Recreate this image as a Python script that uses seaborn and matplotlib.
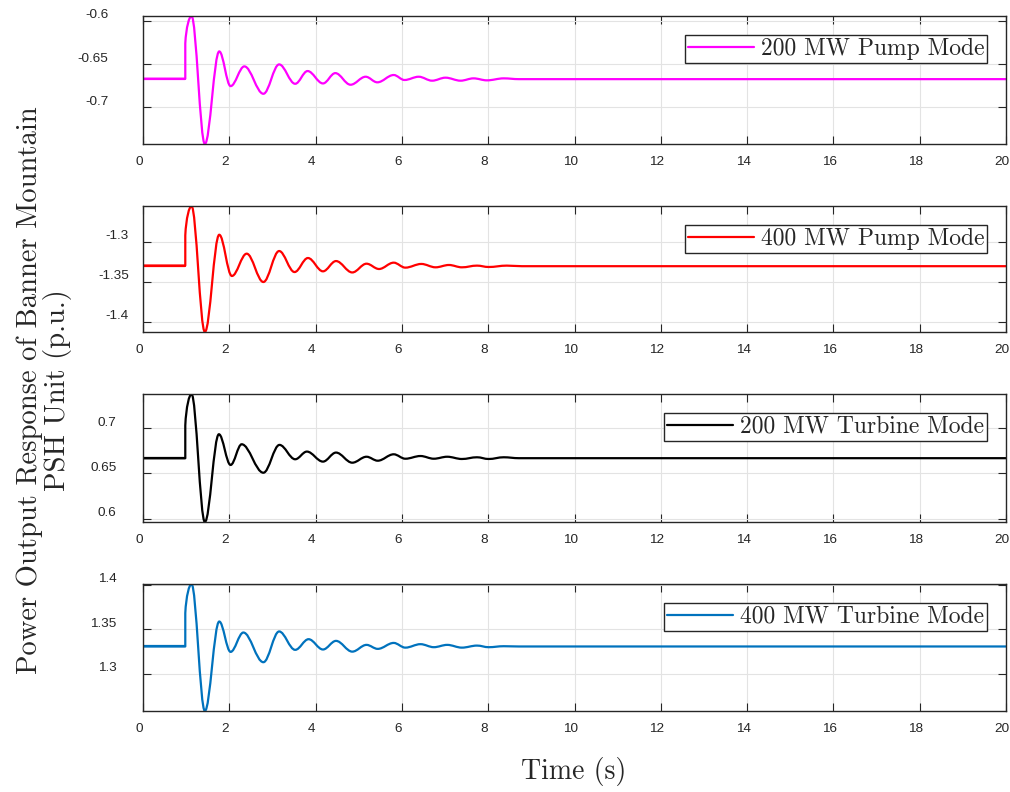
import matplotlib
matplotlib.use("Agg")
import matplotlib.pyplot as plt
from matplotlib.path import Path
from matplotlib.patches import PathPatch
from matplotlib.transforms import ScaledTranslation
import seaborn as sns

# ---------------------------------------------------------------------------
# Power output of the Banner Mountain PSH unit after a disturbance at t ~ 1 s
# Each response: pre-disturbance level, level right after the step,
# successive peak/trough times and values, and the settled level.
# ---------------------------------------------------------------------------
t_end = 20.0
t_step = 0.98

modes = ["200 MW Pump Mode", "400 MW Pump Mode",
         "200 MW Turbine Mode", "400 MW Turbine Mode"]
colors = ["#ff00ff", "#ff0000", "#000000", "#0072bd"]

pump200_level = -0.667
pump200_jump = -0.626
pump200_ext_t = [1.124, 1.434, 1.767, 2.03, 2.349, 2.79, 3.155, 3.527, 3.814,
                 4.171, 4.457, 4.81, 5.16, 5.43, 5.81, 6.06, 6.39, 6.70, 7.01,
                 7.36, 7.66, 7.97, 8.36]
pump200_ext_v = [-0.5942, -0.7428, -0.6353, -0.6756, -0.6527, -0.6845, -0.6504,
                 -0.6729, -0.6581, -0.6725, -0.6605, -0.6740, -0.6647, -0.6712,
                 -0.6627, -0.6685, -0.6647, -0.6693, -0.6658, -0.6693, -0.6666,
                 -0.6689, -0.6666]
pump200_final = -0.6675

pump400_level = -1.3297
pump400_jump = -1.292
pump400_ext_t = [1.124, 1.434, 1.767, 2.06, 2.403, 2.79, 3.155, 3.512, 3.822,
                 4.171, 4.473, 4.85, 5.18, 5.47, 5.81, 6.08, 6.45, 6.78, 7.09,
                 7.39, 7.74, 8.01, 8.43]
pump400_ext_v = [-1.2555, -1.4125, -1.2913, -1.3427, -1.3149, -1.3502, -1.3116,
                 -1.3378, -1.3203, -1.3369, -1.3241, -1.3383, -1.3274, -1.3340,
                 -1.3261, -1.3323, -1.3277, -1.3319, -1.3290, -1.3319, -1.3298,
                 -1.3315, -1.3298]
pump400_final = -1.3305

turb200_level = 0.6667
turb200_jump = 0.703
turb200_ext_t = [1.124, 1.434, 1.759, 2.03, 2.287, 2.79, 3.163, 3.527, 3.798,
                 4.171, 4.473, 4.85, 5.18, 5.44, 5.81, 6.08, 6.43, 6.74, 7.05,
                 7.39, 7.74, 8.01, 8.36]
turb200_ext_v = [0.7378, 0.5962, 0.6933, 0.6593, 0.6822, 0.6507, 0.6815,
                 0.6656, 0.6741, 0.6630, 0.6730, 0.6618, 0.6684, 0.6640,
                 0.6711, 0.6662, 0.6692, 0.6662, 0.6684, 0.6659, 0.6678,
                 0.6659, 0.6678]
turb200_final = 0.6668

turb400_level = 1.3305
turb400_jump = 1.368
turb400_ext_t = [1.124, 1.434, 1.767, 2.03, 2.326, 2.79, 3.155, 3.527, 3.837,
                 4.171, 4.473, 4.85, 5.18, 5.44, 5.81, 6.08, 6.43, 6.74, 7.05,
                 7.39, 7.74, 8.01, 8.36]
turb400_ext_v = [1.4008, 1.2579, 1.3586, 1.3244, 1.3462, 1.3128, 1.3474,
                 1.3267, 1.3387, 1.3271, 1.3368, 1.3247, 1.3323, 1.3278,
                 1.3345, 1.3292, 1.3331, 1.3297, 1.3323, 1.3292, 1.3315,
                 1.3297, 1.3308]
turb400_final = 1.3305

x_ticks = [0, 2, 4, 6, 8, 10, 12, 14, 16, 18, 20]
x_tick_labels = ["0", "2", "4", "6", "8", "10", "12", "14", "16", "18", "20"]

pump200_yticks = [-0.7, -0.65, -0.6]
pump200_yticklabels = ["-0.7", "-0.65", "-0.6"]
pump400_yticks = [-1.4, -1.35, -1.3]
pump400_yticklabels = ["-1.4", "-1.35", "-1.3"]
turb200_yticks = [0.6, 0.65, 0.7]
turb200_yticklabels = ["0.6", "0.65", "0.7"]
turb400_yticks = [1.3, 1.35, 1.4]
turb400_yticklabels = ["1.3", "1.35", "1.4"]

series = [
    (pump200_level, pump200_jump, pump200_ext_t, pump200_ext_v, pump200_final,
     pump200_yticks, pump200_yticklabels),
    (pump400_level, pump400_jump, pump400_ext_t, pump400_ext_v, pump400_final,
     pump400_yticks, pump400_yticklabels),
    (turb200_level, turb200_jump, turb200_ext_t, turb200_ext_v, turb200_final,
     turb200_yticks, turb200_yticklabels),
    (turb400_level, turb400_jump, turb400_ext_t, turb400_ext_v, turb400_final,
     turb400_yticks, turb400_yticklabels),
]

# ---------------------------------------------------------------------------
sns.set_style("ticks")
plt.rcParams.update({
    "font.family": ["Liberation Sans", "DejaVu Sans"],
    "axes.unicode_minus": False,
    "axes.edgecolor": "#262626",
    "axes.linewidth": 1.0,
    "xtick.color": "#262626",
    "ytick.color": "#262626",
    "xtick.labelcolor": "#262626",
    "ytick.labelcolor": "#262626",
})

W, H = 1010, 792
fig = plt.figure(figsize=(W / 100, H / 100), dpi=100)

# panel frames in pixels: (top, bottom)
frames = [(16, 144), (206, 332), (394, 522), (584, 711)]
left_px, right_px = 143, 1006
ylab_pad = [25, 10, 19, 19]


def smooth_response(level, jump, ext_t, ext_v, final, k=0.36):
    """Step at t_step, then a smooth swing through every peak and trough."""
    verts = [(0.0, level), (t_step, level), (t_step, jump)]
    codes = [Path.MOVETO, Path.LINETO, Path.LINETO]
    t1, v1 = ext_t[0], ext_v[0]
    verts += [(t_step + 0.02, jump + 0.6 * (v1 - jump)), (t1 - 0.05, v1), (t1, v1)]
    codes += [Path.CURVE4] * 3
    for i in range(1, len(ext_t)):
        ta, va, tb, vb = ext_t[i - 1], ext_v[i - 1], ext_t[i], ext_v[i]
        dt = tb - ta
        verts += [(ta + k * dt, va), (tb - k * dt, vb), (tb, vb)]
        codes += [Path.CURVE4] * 3
    ta, va = ext_t[-1], ext_v[-1]
    tb = ta + 0.35
    dt = tb - ta
    verts += [(ta + k * dt, va), (tb - k * dt, final), (tb, final)]
    codes += [Path.CURVE4] * 3
    verts.append((t_end, final))
    codes.append(Path.LINETO)
    return Path(verts, codes)


for i, (name, color, data) in enumerate(zip(modes, colors, series)):
    level, jump, ext_t, ext_v, final, yt, ytl = data
    top, bot = frames[i]
    ax = fig.add_axes([left_px / W, 1 - bot / H,
                       (right_px - left_px) / W, (bot - top) / H])

    # pre-disturbance level (also provides the legend entry)
    sns.lineplot(x=[0.0, t_step], y=[level, level], ax=ax, color=color,
                 linewidth=1.6, label=name)
    ax.add_patch(PathPatch(smooth_response(level, jump, ext_t, ext_v, final),
                           facecolor="none", edgecolor=color, linewidth=1.6,
                           joinstyle="round", capstyle="round",
                           transform=ax.transData))

    ax.set_xlim(0, t_end)
    ax.set_ylim(min(ext_v), max(ext_v))
    ax.set_xticks(x_ticks)
    ax.set_xticklabels(x_tick_labels)
    ax.set_yticks(yt)
    ax.set_yticklabels(ytl)
    ax.set_xlabel("")
    ax.set_ylabel("")
    ax.grid(True, color="#e3e3e3", linewidth=0.8)
    ax.set_axisbelow(True)
    for s in ax.spines.values():
        s.set_visible(True)
        s.set_color("#262626")
        s.set_linewidth(1.0)
    ax.tick_params(axis="both", direction="in", length=6, width=0.8,
                   top=True, right=True, labelsize=9.7)
    ax.tick_params(axis="x", pad=8.5)
    ax.tick_params(axis="y", pad=ylab_pad[i])
    for lab in ax.get_yticklabels():
        lab.set_transform(lab.get_transform()
                          + ScaledTranslation(0, 7 / 100, fig.dpi_scale_trans))
    for lab in ax.get_xticklabels():
        lab.set_transform(lab.get_transform()
                          + ScaledTranslation(-4 / 100, 0, fig.dpi_scale_trans))

    leg = ax.legend(loc="upper right", prop={"family": "cmr10", "size": 17},
                    frameon=True, fancybox=False, framealpha=1,
                    edgecolor="#262626", borderpad=0.12, handlelength=2.8,
                    handletextpad=0.3, borderaxespad=0.8)
    leg.get_frame().set_linewidth(1.0)

fig.text(0.044, 0.507, "Power Output Response of Banner Mountain\nPSH Unit (p.u.)",
         rotation=90, ha="center", va="center", multialignment="center",
         family="cmr10", size=20.6, color="#262626", linespacing=1.0)
fig.text(574 / W, 1 - 772 / H, "Time (s)", ha="center", va="center",
         family="cmr10", size=20, color="#262626")

fig.savefig("out.png", dpi=100, facecolor="white")
